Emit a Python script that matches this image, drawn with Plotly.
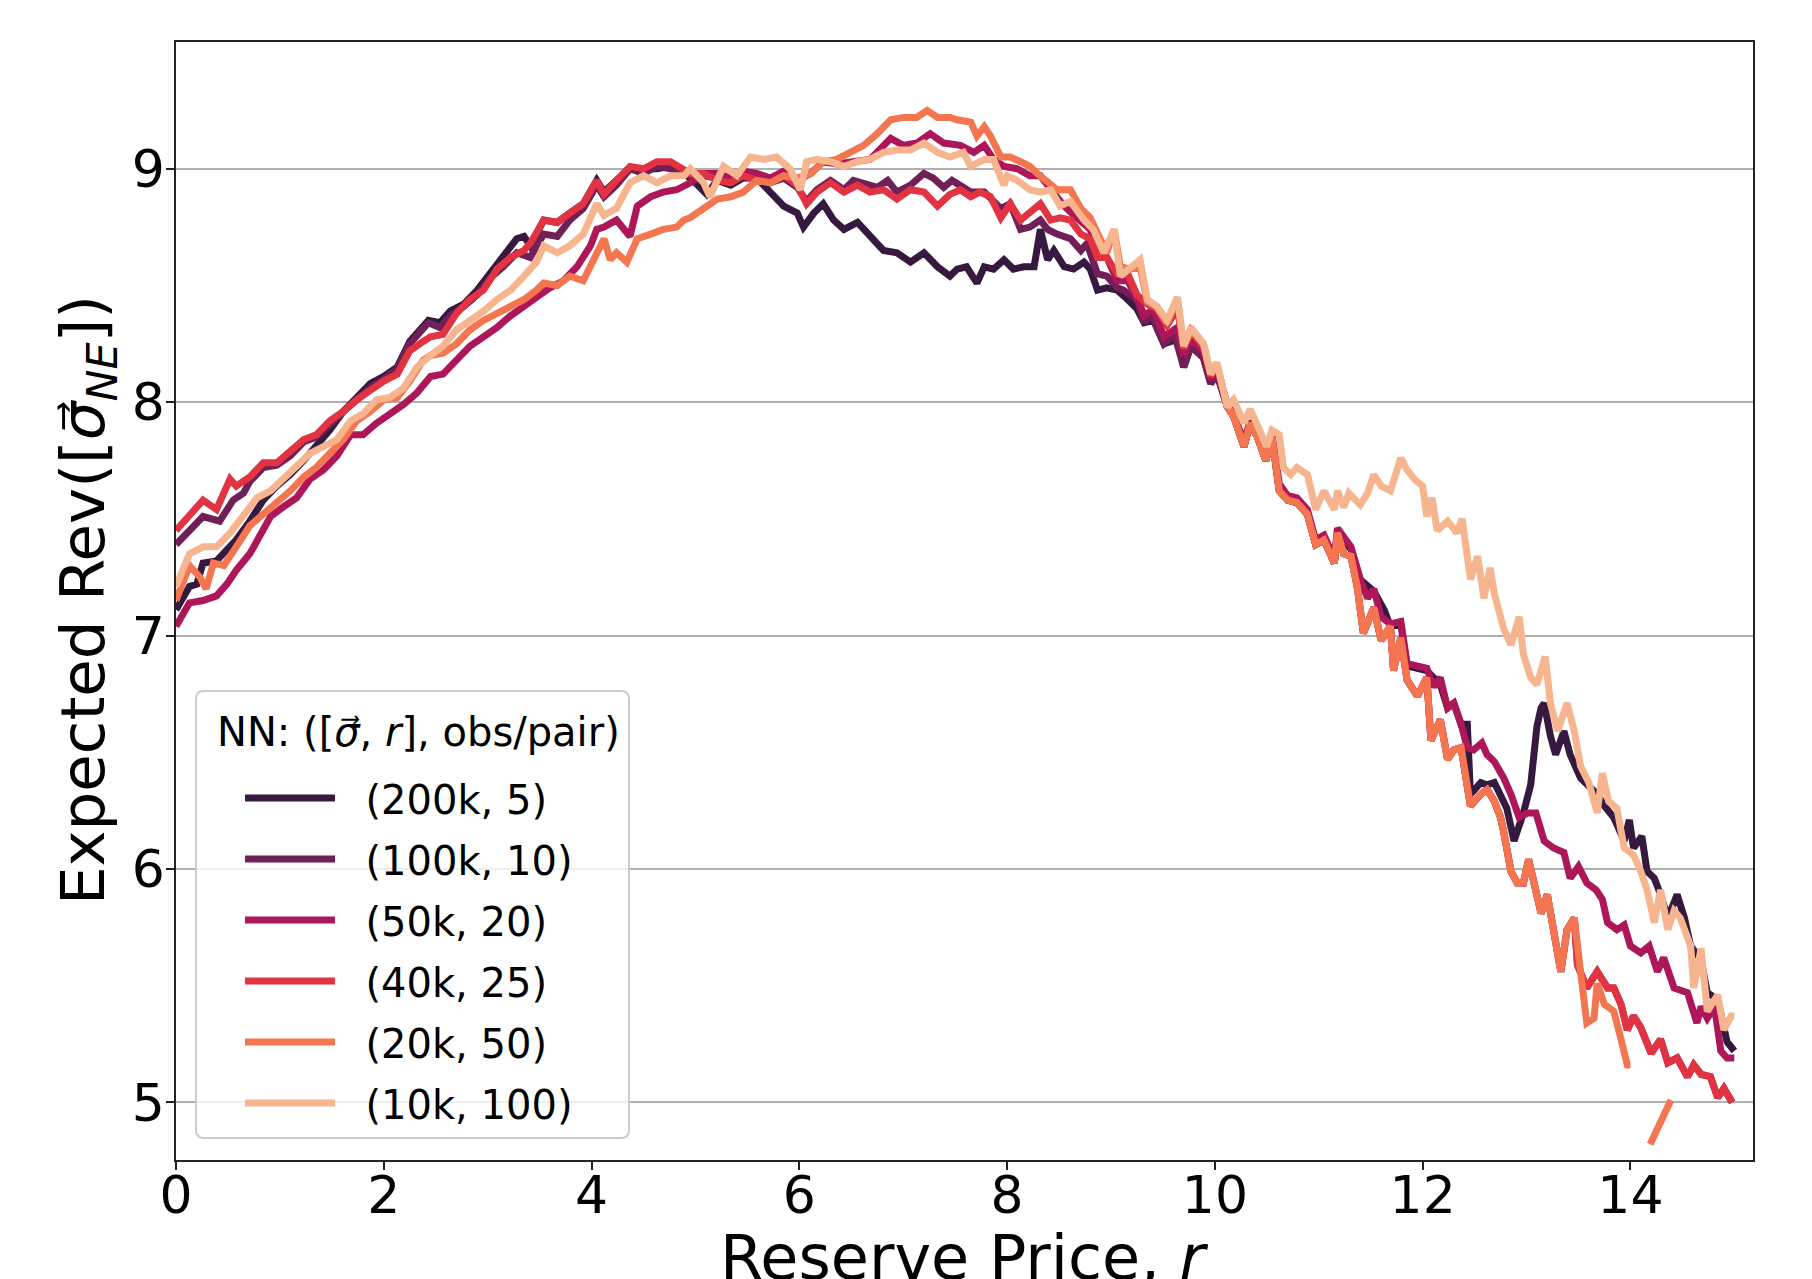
import plotly.graph_objects as go

# ---- data: (reserve price r, expected revenue) ----
S200K = [(0.00,7.11),(0.13,7.21),(0.20,7.22),(0.26,7.31),(0.39,7.32),(0.58,7.41),(0.71,7.49),(0.84,7.58),(0.97,7.64),(1.10,7.69),
         (1.23,7.75),(1.35,7.81),(1.48,7.88),(1.61,7.96),(1.74,8.02),(1.87,8.08),(2.00,8.11),(2.13,8.15),(2.25,8.26),(2.43,8.35),
         (2.54,8.34),(2.64,8.39),(2.77,8.42),(2.90,8.48),(3.02,8.55),(3.15,8.62),(3.28,8.70),(3.35,8.71),(3.41,8.67),(3.54,8.78),
         (3.67,8.77),(3.79,8.81),(3.92,8.85),(4.05,8.95),(4.12,8.90),(4.24,8.95),(4.37,9.00),(4.50,9.00),(4.63,9.00),(4.76,9.01),
         (4.89,8.98),(5.00,8.94),(5.11,8.89),(5.21,8.95),(5.34,8.93),(5.46,8.96),(5.59,8.96),(5.72,8.90),(5.85,8.84),(5.98,8.81),
         (6.04,8.75),(6.14,8.81),(6.23,8.85),(6.33,8.78),(6.43,8.74),(6.56,8.77),(6.68,8.71),(6.81,8.65),(6.94,8.64),(7.07,8.60),
         (7.20,8.64),(7.33,8.58),(7.45,8.54),(7.52,8.57),(7.61,8.58),(7.71,8.51),(7.78,8.58),(7.87,8.57),(7.97,8.61),(8.06,8.57),
         (8.16,8.58),(8.26,8.58),(8.32,8.74),(8.39,8.61),(8.45,8.65),(8.55,8.58),(8.64,8.57),(8.74,8.60),(8.80,8.57),(8.87,8.48),
         (8.96,8.49),(9.06,8.48),(9.16,8.44),(9.25,8.40),(9.32,8.34),(9.41,8.35),(9.51,8.25),(9.64,8.27),(9.70,8.15),(9.77,8.24),
         (9.89,8.19),(9.96,8.08),(10.02,8.12),(10.12,7.98),(10.18,7.94),(10.28,7.81),(10.34,7.91),(10.41,7.85),(10.49,7.75),(10.55,7.85),
         (10.62,7.62),(10.70,7.58),(10.79,7.57),(10.89,7.52),(10.97,7.39),(11.05,7.41),(11.15,7.31),(11.18,7.44),(11.31,7.37),(11.40,7.24),
         (11.53,7.19),(11.63,7.11),(11.69,7.04),(11.79,7.05),(11.85,6.87),(12.04,6.85),(12.17,6.79),(12.24,6.69),(12.30,6.71),(12.37,6.62),
         (12.43,6.62),(12.46,6.32),(12.56,6.37),(12.62,6.36),(12.69,6.37),(12.75,6.32),(12.81,6.26),(12.88,6.12),(12.91,6.16),(12.97,6.24),
         (13.04,6.36),(13.10,6.61),(13.14,6.69),(13.17,6.71),(13.23,6.57),(13.28,6.49),(13.36,6.59),(13.42,6.49),(13.52,6.39),(13.58,6.36),
         (13.68,6.32),(13.75,6.27),(13.84,6.22),(13.94,6.12),(13.99,6.21),(14.03,6.09),(14.11,6.14),(14.16,5.99),(14.23,5.96),(14.29,5.89),
         (14.36,5.79),(14.45,5.89),(14.52,5.79),(14.58,5.67),(14.68,5.61),(14.74,5.47),(14.84,5.44),(14.90,5.32),(14.93,5.26),(15.00,5.22)]

S100K_HEAD = [(0.00,7.39),(0.13,7.45),(0.26,7.51),(0.42,7.49),(0.55,7.58),(0.65,7.61),(0.71,7.66),(0.84,7.72),(0.97,7.73),(1.10,7.77),
              (1.23,7.83),(1.35,7.85),(1.48,7.91),(1.61,7.96),(1.74,8.01),(1.87,8.06),(2.00,8.10),(2.13,8.14),(2.25,8.25),(2.43,8.34),
              (2.54,8.32),(2.64,8.37),(2.77,8.41),(2.90,8.46),(3.02,8.53),(3.15,8.58),(3.28,8.64),(3.41,8.62),(3.54,8.72),(3.67,8.71),
              (3.79,8.78),(3.92,8.83),(4.05,8.93),(4.12,8.88),(4.24,8.93),(4.37,9.00),(4.50,8.98),(4.63,9.01),(4.76,9.00),(4.89,8.98),
              (4.95,8.97),(5.08,8.97),(5.21,8.96),(5.34,8.94),(5.46,8.97),(5.59,8.95),(5.72,8.94),(5.85,8.96),(5.98,8.92),(6.07,8.86),
              (6.17,8.91),(6.30,8.95),(6.43,8.91),(6.52,8.95),(6.62,8.94),(6.75,8.92),(6.85,8.95),(6.94,8.90),(7.07,8.93),(7.20,8.98),
              (7.29,8.96),(7.39,8.92),(7.47,8.95),(7.55,8.93),(7.65,8.90),(7.78,8.90),(7.94,8.83),(8.03,8.85),(8.13,8.74),(8.22,8.75),
              (8.32,8.78),(8.39,8.74),(8.48,8.72),(8.61,8.70),(8.71,8.65),(8.77,8.68),(8.87,8.55),(8.96,8.54),(9.06,8.49),(9.12,8.48),
              (9.25,8.44),(9.32,8.34),(9.38,8.38),(9.51,8.25),(9.61,8.29),(9.70,8.15),(9.77,8.24),(9.89,8.19),(9.96,8.08),(10.02,8.12),
              (10.12,7.98)]

S50K = [(0.00,7.04),(0.13,7.14),(0.26,7.15),(0.39,7.17),(0.49,7.22),(0.58,7.28),(0.71,7.35),(0.78,7.41),(0.91,7.51),(1.03,7.55),
        (1.16,7.59),(1.29,7.67),(1.42,7.71),(1.55,7.77),(1.68,7.86),(1.80,7.86),(1.93,7.91),(2.06,7.95),(2.19,7.99),(2.32,8.04),
        (2.45,8.11),(2.57,8.12),(2.70,8.18),(2.83,8.24),(2.96,8.28),(3.09,8.32),(3.22,8.37),(3.35,8.41),(3.47,8.45),(3.60,8.49),
        (3.73,8.52),(3.86,8.58),(3.99,8.67),(4.05,8.74),(4.12,8.75),(4.24,8.78),(4.37,8.71),(4.44,8.84),(4.57,8.88),(4.69,8.90),
        (4.82,8.91),(4.95,8.94),(5.08,8.98),(5.21,8.98),(5.34,8.96),(5.46,8.99),(5.59,8.98),(5.72,8.96),(5.85,8.99),(5.98,8.95),
        (6.11,8.98),(6.23,9.03),(6.36,9.02),(6.49,9.03),(6.68,9.04),(6.88,9.13),(7.00,9.10),(7.13,9.11),(7.26,9.15),(7.39,9.11),
        (7.55,9.10),(7.68,9.07),(7.78,9.10),(7.87,9.04),(7.97,9.01),(8.10,9.00),(8.22,8.97),(8.32,8.97),(8.42,8.91),(8.55,8.84),
        (8.67,8.79),(8.80,8.74),(8.87,8.64),(8.96,8.62),(9.06,8.52),(9.16,8.52),(9.25,8.45),(9.32,8.37),(9.41,8.40),(9.51,8.28),
        (9.64,8.32),(9.70,8.20),(9.77,8.27),(9.89,8.22),(9.96,8.10),(10.02,8.14),(10.12,7.99),(10.18,7.95),(10.28,7.83),(10.34,7.92),
        (10.41,7.86),(10.49,7.77),(10.55,7.86),(10.62,7.65),(10.70,7.60),(10.79,7.59),(10.89,7.54),(10.97,7.41),(11.05,7.43),(11.15,7.33),
        (11.18,7.46),(11.31,7.38),(11.40,7.24),(11.47,7.16),(11.53,7.20),(11.60,7.08),(11.69,7.05),(11.79,7.06),(11.85,6.88),(12.04,6.86),
        (12.11,6.78),(12.17,6.82),(12.24,6.69),(12.30,6.71),(12.37,6.62),(12.43,6.52),(12.49,6.51),(12.57,6.54),(12.62,6.49),(12.69,6.46),
        (12.78,6.39),(12.85,6.32),(12.93,6.22),(13.01,6.24),(13.09,6.24),(13.17,6.12),(13.26,6.09),(13.36,6.07),(13.42,5.96),(13.50,6.01),
        (13.58,5.94),(13.67,5.91),(13.73,5.87),(13.78,5.77),(13.87,5.74),(13.94,5.76),(14.00,5.67),(14.10,5.64),(14.18,5.67),(14.26,5.56),
        (14.32,5.62),(14.42,5.49),(14.55,5.47),(14.64,5.34),(14.68,5.41),(14.74,5.36),(14.81,5.41),(14.87,5.22),(14.93,5.19),(15.00,5.19)]

S40K_HEAD = [(0.00,7.45),(0.13,7.52),(0.26,7.58),(0.39,7.54),(0.52,7.67),(0.58,7.64),(0.71,7.68),(0.84,7.74),(0.97,7.74),(1.10,7.79),
             (1.23,7.84),(1.35,7.86),(1.48,7.92),(1.61,7.96),(1.74,8.01),(1.87,8.05),(2.00,8.09),(2.13,8.12),(2.25,8.22),(2.38,8.26),
             (2.45,8.28),(2.57,8.29),(2.70,8.38),(2.83,8.44),(2.96,8.48),(3.09,8.57),(3.22,8.62),(3.35,8.65),(3.41,8.68),(3.54,8.78),
             (3.67,8.77),(3.79,8.81),(3.92,8.85),(4.05,8.95),(4.12,8.89),(4.24,8.95),(4.37,9.01),(4.50,9.00),(4.63,9.03),(4.76,9.03),
             (4.89,9.00),(4.95,8.98),(5.08,8.98),(5.21,8.95),(5.34,8.94),(5.46,8.97),(5.59,8.95),(5.72,8.94),(5.85,8.97),(5.98,8.93),
             (6.07,8.85),(6.17,8.90),(6.30,8.94),(6.43,8.90),(6.56,8.93),(6.68,8.90),(6.81,8.91),(6.94,8.87),(7.07,8.91),(7.20,8.90),
             (7.33,8.84),(7.45,8.89),(7.55,8.91),(7.65,8.88),(7.74,8.90),(7.84,8.88),(7.94,8.79),(8.03,8.85),(8.13,8.78),(8.22,8.81),
             (8.32,8.85),(8.42,8.78),(8.51,8.79),(8.61,8.78),(8.71,8.72),(8.80,8.70),(8.87,8.62),(8.96,8.62),(9.06,8.55),(9.16,8.55),
             (9.25,8.46),(9.35,8.42),(9.44,8.40),(9.54,8.33),(9.64,8.40),(9.70,8.23),(9.77,8.30),(9.89,8.24),(9.96,8.11),(10.02,8.16),
             (10.12,7.98)]

S20K_HEAD = [(0.00,7.15),(0.13,7.30),(0.23,7.25),(0.29,7.20),(0.36,7.31),(0.46,7.30),(0.58,7.38),(0.71,7.47),(0.84,7.52),(0.97,7.57),
             (1.10,7.62),(1.23,7.68),(1.35,7.72),(1.48,7.78),(1.61,7.84),(1.74,7.92),(1.87,7.96),(2.00,8.01),(2.13,8.02),(2.25,8.09),
             (2.38,8.18),(2.45,8.20),(2.57,8.21),(2.70,8.25),(2.83,8.31),(2.96,8.35),(3.09,8.38),(3.22,8.41),(3.35,8.44),(3.47,8.48),
             (3.54,8.51),(3.67,8.50),(3.79,8.54),(3.92,8.52),(4.05,8.64),(4.12,8.70),(4.18,8.61),(4.24,8.64),(4.34,8.60),(4.44,8.70),
             (4.57,8.72),(4.69,8.74),(4.82,8.75),(4.89,8.78),(4.95,8.79),(5.05,8.82),(5.21,8.87),(5.34,8.88),(5.46,8.90),(5.59,8.95),
             (5.72,8.94),(5.85,8.97),(5.98,8.96),(6.11,8.98),(6.23,9.03),(6.36,9.04),(6.49,9.07),(6.62,9.10),(6.75,9.15),(6.88,9.21),
             (7.00,9.22),(7.13,9.22),(7.23,9.25),(7.33,9.22),(7.45,9.22),(7.52,9.21),(7.65,9.20),(7.71,9.14),(7.78,9.18),(7.84,9.14),
             (7.94,9.05),(8.03,9.05),(8.13,9.03),(8.22,9.01),(8.29,8.98),(8.39,8.94),(8.48,8.91),(8.61,8.91),(8.71,8.83),(8.80,8.79),
             (8.87,8.72),(8.96,8.64),(9.03,8.74),(9.09,8.58),(9.19,8.57),(9.28,8.58),(9.35,8.43),(9.44,8.41),(9.54,8.34),(9.64,8.44),
             (9.70,8.24),(9.77,8.31),(9.89,8.25),(9.96,8.12),(10.02,8.16),(10.12,7.98)]

# r 10.2 - 13.46: the (100k), (40k) and (20k) curves run on top of each other here
BUNDLE = [(10.18,7.94),(10.28,7.81),(10.34,7.91),(10.41,7.85),(10.49,7.75),(10.55,7.85),(10.62,7.62),(10.70,7.58),(10.79,7.57),(10.89,7.52),
          (10.97,7.39),(11.05,7.41),(11.15,7.31),(11.18,7.44),(11.24,7.35),(11.31,7.34),(11.37,7.21),(11.43,7.01),(11.53,7.12),(11.60,6.98),
          (11.69,7.04),(11.72,6.85),(11.79,6.99),(11.85,6.81),(11.95,6.74),(12.04,6.82),(12.08,6.55),(12.17,6.64),(12.24,6.47),(12.30,6.51),
          (12.37,6.52),(12.46,6.27),(12.56,6.32),(12.62,6.34),(12.69,6.29),(12.75,6.22),(12.78,6.16),(12.85,5.99),(12.91,5.94),(12.97,5.94),
          (13.02,6.04),(13.07,5.94),(13.14,5.81),(13.20,5.89),(13.26,5.72),(13.33,5.56),(13.39,5.74),(13.46,5.79)]

S40K_TAIL = [(13.49,5.59),(13.58,5.49),(13.68,5.56),(13.78,5.49),(13.84,5.49),(13.91,5.42),(13.97,5.31),(14.03,5.37),(14.10,5.32),(14.20,5.21),
             (14.29,5.27),(14.36,5.17),(14.45,5.19),(14.55,5.11),(14.61,5.16),(14.68,5.12),(14.77,5.11),(14.84,5.02),(14.90,5.06),(14.98,5.00)]

S20K_TAIL = [(13.52,5.56),(13.58,5.34),(13.65,5.36),(13.68,5.51),(13.75,5.42),(13.84,5.39),(13.91,5.27),(13.97,5.16),(14.00,5.16),(14.08,None),
             (14.19,4.82),(14.29,4.91),(14.39,5.01),(14.45,None)]

S10K = [(0.00,7.21),(0.13,7.35),(0.26,7.38),(0.39,7.38),(0.52,7.44),(0.65,7.52),(0.78,7.59),(0.91,7.62),(1.03,7.67),(1.16,7.72),
        (1.29,7.78),(1.42,7.81),(1.55,7.84),(1.68,7.92),(1.80,7.95),(1.93,8.01),(2.06,8.02),(2.19,8.06),(2.32,8.15),(2.45,8.20),
        (2.57,8.24),(2.70,8.31),(2.83,8.35),(2.96,8.39),(3.09,8.44),(3.22,8.48),(3.35,8.54),(3.47,8.60),(3.54,8.67),(3.67,8.64),
        (3.79,8.67),(3.92,8.72),(4.05,8.85),(4.12,8.80),(4.24,8.83),(4.37,8.94),(4.50,8.97),(4.63,8.94),(4.76,8.97),(4.89,8.97),
        (4.95,9.00),(5.08,8.94),(5.14,8.88),(5.27,9.01),(5.40,8.97),(5.53,9.05),(5.66,9.04),(5.78,9.05),(5.91,9.00),(6.01,8.91),
        (6.07,9.03),(6.17,9.04),(6.30,9.03),(6.43,9.01),(6.56,9.03),(6.68,9.04),(6.81,9.07),(6.94,9.08),(7.07,9.08),(7.20,9.11),
        (7.33,9.07),(7.45,9.05),(7.58,9.07),(7.65,9.01),(7.78,9.04),(7.87,9.04),(7.97,8.93),(8.00,8.97),(8.10,8.95),(8.22,8.91),
        (8.32,8.90),(8.42,8.91),(8.51,8.84),(8.61,8.86),(8.74,8.78),(8.83,8.74),(8.93,8.64),(9.03,8.74),(9.09,8.54),(9.19,8.58),
        (9.28,8.61),(9.35,8.44),(9.44,8.41),(9.54,8.35),(9.64,8.45),(9.70,8.24),(9.77,8.32),(9.89,8.25),(9.96,8.12),(10.02,8.17),
        (10.12,7.98),(10.18,8.01),(10.28,7.91),(10.34,7.97),(10.44,7.87),(10.50,7.81),(10.55,7.88),(10.62,7.86),(10.66,7.72),(10.73,7.69),
        (10.79,7.72),(10.89,7.69),(10.97,7.54),(11.05,7.62),(11.15,7.54),(11.18,7.62),(11.24,7.55),(11.29,7.61),(11.40,7.56),(11.47,7.61),
        (11.53,7.69),(11.60,7.64),(11.69,7.62),(11.79,7.76),(11.85,7.71),(11.92,7.67),(12.00,7.64),(12.04,7.51),(12.09,7.59),(12.14,7.45),
        (12.24,7.49),(12.33,7.44),(12.38,7.50),(12.46,7.24),(12.53,7.34),(12.59,7.16),(12.65,7.29),(12.69,7.18),(12.78,7.03),(12.85,6.96),
        (12.93,7.08),(12.97,6.92),(13.04,6.82),(13.10,6.79),(13.18,6.91),(13.23,6.71),(13.30,6.59),(13.39,6.71),(13.46,6.59),(13.52,6.44),
        (13.60,6.37),(13.68,6.24),(13.73,6.41),(13.79,6.29),(13.87,6.26),(13.94,6.09),(14.03,6.06),(14.10,5.99),(14.16,5.91),(14.23,5.77),
        (14.29,5.91),(14.36,5.74),(14.42,5.82),(14.48,5.79),(14.58,5.67),(14.61,5.49),(14.68,5.66),(14.74,5.39),(14.84,5.46),(14.90,5.31),
        (14.97,5.37),(15.00,5.37)]

LABELS = ["(200k, 5)", "(100k, 10)", "(50k, 20)", "(40k, 25)", "(20k, 50)", "(10k, 100)"]
COLORS = ["#35193e", "#701f57", "#ad1759", "#e13342", "#f37651", "#f6b48f"]
SERIES = [S200K,
          S100K_HEAD + BUNDLE + S40K_TAIL,
          S50K,
          S40K_HEAD + BUNDLE + S40K_TAIL,
          S20K_HEAD + BUNDLE + S20K_TAIL,
          S10K]
X_TICKS = [0, 2, 4, 6, 8, 10, 12, 14]
Y_TICKS = [5, 6, 7, 8, 9]

FONT = "DejaVu Sans"
NB = "\u00a0"
fig = go.Figure()
for i, (lab, col, pts) in enumerate(zip(LABELS, COLORS, SERIES)):
    fig.add_trace(go.Scatter(
        x=[p[0] for p in pts], y=[p[1] for p in pts], mode="lines", name=NB * 2 + lab,
        legendgroup=f"g{i}", line=dict(color=col, width=7), connectgaps=False))

axis_common = dict(showline=True, linecolor="#222222", linewidth=1.5, mirror=True,
                   ticks="outside", ticklen=8, tickwidth=1.5, tickcolor="#222222",
                   zeroline=False, tickfont=dict(size=52, family=FONT, color="black"))

# legend frame (rounded, semi-transparent like the reference)
x0, x1, y0, y1 = 0.01268, 0.28725, 0.01968, 0.41950
rx, ry = 0.0051, 0.0072
frame = (f"M {x0+rx},{y0} L {x1-rx},{y0} Q {x1},{y0} {x1},{y0+ry} L {x1},{y1-ry} Q {x1},{y1} {x1-rx},{y1} "
         f"L {x0+rx},{y1} Q {x0},{y1} {x0},{y1-ry} L {x0},{y0+ry} Q {x0},{y0} {x0+rx},{y0} Z")

fig.update_layout(
    width=1804, height=1271,
    margin=dict(l=168, r=59, t=34, b=119, autoexpand=False),
    plot_bgcolor="white", paper_bgcolor="white",
    font=dict(family=FONT, color="black"),
    xaxis=dict(range=[0, 15.18], tickvals=X_TICKS, showgrid=False, ticklabelstandoff=-19, **axis_common),
    yaxis=dict(range=[4.753, 9.543], tickvals=Y_TICKS, showgrid=True, ticklabelstandoff=-9,
               gridcolor="#b0b0b0", gridwidth=1.5, **axis_common),
    legend=dict(x=0.0406, y=0.0219, xanchor="left", yanchor="bottom",
                bgcolor="rgba(0,0,0,0)", borderwidth=0,
                font=dict(size=40, family=FONT, color="black"),
                itemwidth=90, tracegroupgap=6),
    shapes=[dict(type="path", xref="paper", yref="paper", path=frame, layer="above",
                 fillcolor="rgba(255,255,255,0.8)", line=dict(color="#cccccc", width=2))],
    annotations=[
        dict(text="NN: ([<i>σ\u20d7</i>, <i>r</i>], obs/pair)", xref="paper", yref="paper",
             x=0.0247, y=0.3828, xanchor="left", yanchor="middle", showarrow=False,
             font=dict(size=40, family=FONT, color="black")),
        dict(text="Reserve Price, <i>r</i>", xref="paper", yref="paper",
             x=0.5, y=-0.0868, xanchor="center", yanchor="middle", showarrow=False,
             font=dict(size=62, family=FONT, color="black")),
        dict(text="Expected Rev([<i>σ\u20d7</i><sub><i>NE</i></sub>])", xref="paper", yref="paper",
             x=-0.0564, y=0.5009, xanchor="center", yanchor="middle", showarrow=False, textangle=-90,
             font=dict(size=61, family=FONT, color="black")),
    ],
)

fig.write_html("out.html")
